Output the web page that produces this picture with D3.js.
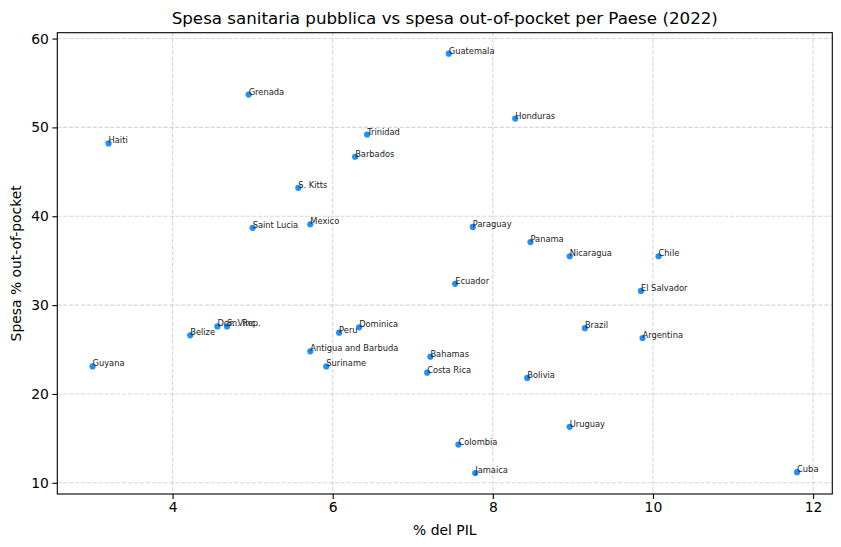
<!DOCTYPE html>
<html>
<head>
<meta charset="utf-8">
<script src="https://cdn.jsdelivr.net/npm/d3@7"></script>
<style>
  body { margin: 0; background: #fff; }
  svg text { font-family: "DejaVu Sans", sans-serif; fill: #000; }
  .grid line { stroke: #b0b0b0; stroke-opacity: 0.5; stroke-width: 1.1; stroke-dasharray: 4.1,1.8; }
  .axis path, .axis line { stroke: #000; stroke-width: 1.1; }
  .axis text { font-size: 13.9px; }
</style>
</head>
<body>
<div id="chart"></div>
<script>
var countries = ["Guatemala", "Grenada", "Honduras", "Trinidad", "Haiti", "Barbados", "S. Kitts",
  "Mexico", "Paraguay", "Saint Lucia", "Panama", "Nicaragua", "Chile", "Ecuador", "El Salvador",
  "Dom. Rep.", "S. Vinc.", "Brazil", "Dominica", "Peru", "Belize", "Argentina", "Antigua and Barbuda",
  "Bahamas", "Guyana", "Suriname", "Costa Rica", "Bolivia", "Uruguay", "Colombia", "Jamaica", "Cuba"];
var pilPct = [7.45, 4.95, 8.28, 6.43, 3.20, 6.28, 5.57,
  5.72, 7.75, 5.00, 8.47, 8.96, 10.07, 7.53, 9.85,
  4.56, 4.68, 9.15, 6.33, 6.08, 4.22, 9.87, 5.72,
  7.22, 3.00, 5.92, 7.18, 8.43, 8.96, 7.57, 7.78, 11.80];
var oopPct = [58.3, 53.7, 51.0, 49.2, 48.2, 46.7, 43.2,
  39.1, 38.8, 38.7, 37.1, 35.5, 35.5, 32.4, 31.6,
  27.6, 27.6, 27.4, 27.5, 26.9, 26.6, 26.3, 24.8,
  24.2, 23.1, 23.1, 22.4, 21.8, 16.3, 14.3, 11.1, 11.2];
var xTicks = [4, 6, 8, 10, 12];
var yTicks = [10, 20, 30, 40, 50, 60];

var width = 841;
var height = 547;
var margin = { top: 32.7, right: 8.7, bottom: 53, left: 57.3 };

var data = countries.map(function (c, i) {
  return { name: c, pil: pilPct[i], oop: oopPct[i] };
});

/* matplotlib style 5% padding */
function padded(ext) {
  var p = (ext[1] - ext[0]) * 0.05;
  return [ext[0] - p, ext[1] + p];
}

var xScale = d3.scaleLinear()
  .domain(padded(d3.extent(pilPct)))
  .range([margin.left, width - margin.right]);

var yScale = d3.scaleLinear()
  .domain(padded(d3.extent(oopPct)))
  .range([height - margin.bottom, margin.top]);

var svg = d3.select("#chart")
  .append("svg")
  .attr("width", width)
  .attr("height", height);

/* Grid */
var grid = svg.append("g").attr("class", "grid");
grid.selectAll(".gx")
  .data(xTicks)
  .enter()
  .append("line")
  .attr("x1", (d) => xScale(d))
  .attr("x2", (d) => xScale(d))
  .attr("y1", margin.top)
  .attr("y2", height - margin.bottom);
grid.selectAll(".gy")
  .data(yTicks)
  .enter()
  .append("line")
  .attr("x1", margin.left)
  .attr("x2", width - margin.right)
  .attr("y1", (d) => yScale(d))
  .attr("y2", (d) => yScale(d));

/* Points */
svg.append("g")
  .selectAll("circle")
  .data(data)
  .enter()
  .append("circle")
  .attr("cx", (d) => xScale(d.pil))
  .attr("cy", (d) => yScale(d.oop))
  .attr("r", 3.1)
  .style("fill", "#1e90ff");

/* Labels */
svg.append("g")
  .selectAll("text")
  .data(data)
  .enter()
  .append("text")
  .attr("x", (d) => xScale(d.pil))
  .attr("y", (d) => yScale(d.oop))
  .style("font-size", "8.3px")
  .style("fill", "#222")
  .text((d) => d.name);

/* Axes */
var xAxis = d3.axisBottom(xScale).tickValues(xTicks).tickSize(4.9).tickPadding(3.5).tickSizeOuter(0);
var yAxis = d3.axisLeft(yScale).tickValues(yTicks).tickSize(4.9).tickPadding(3.5).tickSizeOuter(0);

svg.append("g")
  .attr("class", "x axis")
  .attr("transform", `translate(0, ${height - margin.bottom})`)
  .call(xAxis)
  .select(".domain").remove();

svg.append("g")
  .attr("class", "y axis")
  .attr("transform", `translate(${margin.left}, 0)`)
  .call(yAxis)
  .select(".domain").remove();

/* Frame */
svg.append("rect")
  .attr("x", margin.left)
  .attr("y", margin.top)
  .attr("width", width - margin.left - margin.right)
  .attr("height", height - margin.top - margin.bottom)
  .style("fill", "none")
  .style("stroke", "#000")
  .style("stroke-width", 1.1);

/* Titles */
var cx = (margin.left + width - margin.right) / 2;
svg.append("text")
  .attr("x", cx)
  .attr("y", 24)
  .attr("text-anchor", "middle")
  .style("font-size", "16.7px")
  .text("Spesa sanitaria pubblica vs spesa out-of-pocket per Paese (2022)");

svg.append("text")
  .attr("x", cx)
  .attr("y", 535)
  .attr("text-anchor", "middle")
  .style("font-size", "13.9px")
  .text("% del PIL");

svg.append("text")
  .attr("transform", `translate(21, ${(margin.top + height - margin.bottom) / 2}) rotate(-90)`)
  .attr("text-anchor", "middle")
  .style("font-size", "13.9px")
  .text("Spesa % out-of-pocket");
</script>
</body>
</html>
